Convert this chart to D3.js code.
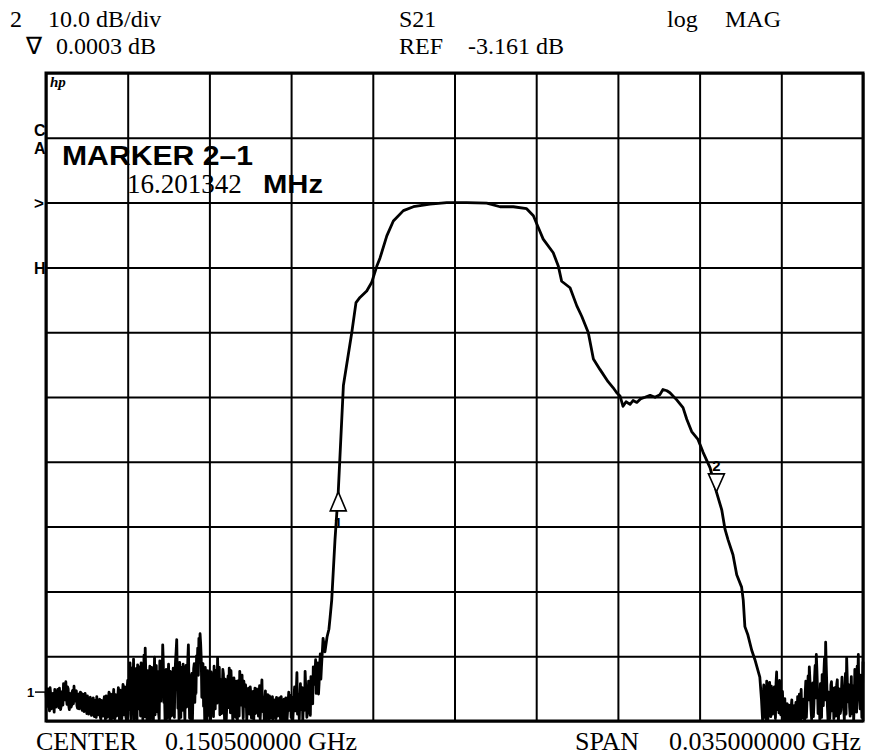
<!DOCTYPE html>
<html>
<head>
<meta charset="utf-8">
<script src="https://cdn.jsdelivr.net/npm/d3@7"></script>
<style>
  body { margin: 0; background: #fff; }
  svg { display: block; }
  .serif { font-family: "Liberation Serif", "Times New Roman", serif; }
  .sans  { font-family: "Liberation Sans", Arial, sans-serif; font-weight: bold; }
</style>
</head>
<body>
<div id="chart"></div>
<script>
// Sweep: centre 150.5 MHz, span 35 MHz, 10 dB/div, ref -3.161 dB
var refDb = -3.161;
var freqGrid = [133, 136.5, 140, 143.5, 147, 150.5, 154, 157.5, 161, 164.5, 168];
var dbGrid = [16.839, 6.839, -3.161, -13.161, -23.161, -33.161, -43.161, -53.161, -63.161, -73.161, -83.161];

// noise floor below the passband (MHz / dB)
var lowNoiseFreq = [
    133.00, 133.05, 133.10, 133.15, 133.20, 133.25, 133.30, 133.35, 133.40, 133.45,
    133.50, 133.55, 133.60, 133.65, 133.70, 133.75, 133.80, 133.85, 133.90, 133.95,
    134.00, 134.05, 134.10, 134.15, 134.20, 134.25, 134.30, 134.35, 134.40, 134.45,
    134.50, 134.55, 134.60, 134.65, 134.70, 134.75, 134.80, 134.85, 134.90, 134.95,
    135.00, 135.05, 135.10, 135.15, 135.20, 135.25, 135.30, 135.35, 135.40, 135.45,
    135.50, 135.55, 135.60, 135.65, 135.70, 135.75, 135.80, 135.85, 135.90, 135.95,
    136.00, 136.05, 136.10, 136.15, 136.20, 136.25, 136.30, 136.35, 136.40, 136.45,
    136.50, 136.55, 136.60, 136.65, 136.70, 136.75, 136.80, 136.85, 136.90, 136.95,
    137.00, 137.05, 137.10, 137.15, 137.20, 137.25, 137.30, 137.35, 137.40, 137.45,
    137.50, 137.55, 137.60, 137.65, 137.70, 137.75, 137.80, 137.85, 137.90, 137.95,
    138.00, 138.05, 138.10, 138.15, 138.20, 138.25, 138.30, 138.35, 138.40, 138.45,
    138.50, 138.55, 138.60, 138.65, 138.70, 138.75, 138.80, 138.85, 138.90, 138.95,
    139.00, 139.05, 139.10, 139.15, 139.20, 139.25, 139.30, 139.35, 139.40, 139.45,
    139.50, 139.55, 139.60, 139.65, 139.70, 139.75, 139.80, 139.85, 139.90, 139.95,
    140.00, 140.05, 140.10, 140.15, 140.20, 140.25, 140.30, 140.35, 140.40, 140.45,
    140.50, 140.55, 140.60, 140.65, 140.70, 140.75, 140.80, 140.85, 140.90, 140.95,
    141.00, 141.05, 141.10, 141.15, 141.20, 141.25, 141.30, 141.35, 141.40, 141.45,
    141.50, 141.55, 141.60, 141.65, 141.70, 141.75, 141.80, 141.85, 141.90, 141.95,
    142.00, 142.05, 142.10, 142.15, 142.20, 142.25, 142.30, 142.35, 142.40, 142.45,
    142.50, 142.55, 142.60, 142.65, 142.70, 142.75, 142.80, 142.85, 142.90, 142.95,
    143.00, 143.05, 143.10, 143.15, 143.20, 143.25, 143.30, 143.35, 143.40, 143.45,
    143.50, 143.55, 143.60, 143.65, 143.70, 143.75, 143.80, 143.85, 143.90, 143.95,
    144.00, 144.05, 144.10, 144.15, 144.20, 144.25, 144.30, 144.35, 144.40, 144.45,
    144.50, 144.55, 144.60, 144.65, 144.70, 144.75, 144.80];
var lowNoiseDb = [
    -78.7, -80.9, -79.4, -81.6, -79.0, -80.5, -78.9, -81.8, -79.6, -80.2,
    -78.3, -81.1, -79.5, -80.8, -78.6, -77.4, -79.9, -77.1, -80.6, -78.2,
    -81.4, -79.3, -80.7, -78.4, -77.8, -80.1, -78.5, -81.2, -79.0, -80.9,
    -78.8, -81.5, -79.2, -80.4, -79.7, -82.0, -80.1, -81.3, -79.5, -82.3,
    -80.4, -81.7, -80.0, -82.6, -80.8, -81.9, -79.8, -82.9, -80.3, -82.4,
    -79.4, -83.0, -80.6, -82.1, -78.7, -83.1, -79.6, -82.5, -78.3, -83.0,
    -80.2, -81.8, -78.0, -83.1, -79.1, -82.7, -77.5, -82.2, -78.6, -83.0,
    -76.9, -81.4, -74.2, -83.0, -76.5, -73.6, -80.8, -75.1, -83.1, -77.0,
    -74.8, -82.4, -76.3, -83.1, -73.0, -71.9, -79.6, -75.4, -82.9, -74.7,
    -78.2, -76.0, -83.1, -73.3, -77.9, -81.7, -75.6, -83.0, -76.8, -74.1,
    -71.4, -80.3, -83.1, -75.2, -78.7, -74.4, -83.1, -76.7, -79.9, -75.0,
    -82.6, -73.8, -70.6, -81.2, -83.1, -76.1, -74.9, -81.5, -77.3, -83.0,
    -74.6, -76.9, -71.4, -82.7, -83.1, -75.8, -78.4, -74.3, -76.6, -73.1,
    -71.9, -70.4, -69.7, -73.5, -77.2, -80.9, -83.1, -76.4, -83.1, -79.0,
    -75.7, -83.1, -80.2, -76.0, -74.7, -81.3, -75.3, -73.4, -79.1, -82.2,
    -76.8, -78.6, -75.9, -83.0, -77.4, -80.1, -76.2, -75.0, -81.9, -77.7,
    -83.1, -76.5, -79.8, -77.0, -83.0, -76.9, -75.5, -80.7, -76.1, -82.8,
    -78.3, -77.6, -83.0, -78.8, -80.6, -77.9, -82.7, -79.2, -83.1, -78.1,
    -80.9, -79.0, -82.4, -77.7, -81.0, -76.8, -79.5, -83.0, -78.5, -81.8,
    -79.1, -83.1, -80.0, -82.3, -79.4, -81.5, -79.9, -82.8, -80.3, -81.2,
    -79.6, -83.0, -80.5, -82.0, -79.8, -83.1, -80.9, -81.6, -78.7, -80.4,
    -82.6, -79.5, -81.1, -77.9, -80.2, -75.7, -79.0, -82.9, -77.4, -80.6,
    -83.1, -78.2, -75.5, -79.3, -82.1, -77.0, -80.4, -76.3, -78.9, -74.8,
    -77.5, -73.7, -76.6, -74.2, -77.3, -72.8, -74.9];

// in-between sweep points of the same noise floor
var lowNoiseFreqB = [
    133.025, 133.075, 133.125, 133.175, 133.225, 133.275, 133.325, 133.375, 133.425, 133.475,
    133.525, 133.575, 133.625, 133.675, 133.725, 133.775, 133.825, 133.875, 133.925, 133.975,
    134.025, 134.075, 134.125, 134.175, 134.225, 134.275, 134.325, 134.375, 134.425, 134.475,
    134.525, 134.575, 134.625, 134.675, 134.725, 134.775, 134.825, 134.875, 134.925, 134.975,
    135.025, 135.075, 135.125, 135.175, 135.225, 135.275, 135.325, 135.375, 135.425, 135.475,
    135.525, 135.575, 135.625, 135.675, 135.725, 135.775, 135.825, 135.875, 135.925, 135.975,
    136.025, 136.075, 136.125, 136.175, 136.225, 136.275, 136.325, 136.375, 136.425, 136.475,
    136.525, 136.575, 136.625, 136.675, 136.725, 136.775, 136.825, 136.875, 136.925, 136.975,
    137.025, 137.075, 137.125, 137.175, 137.225, 137.275, 137.325, 137.375, 137.425, 137.475,
    137.525, 137.575, 137.625, 137.675, 137.725, 137.775, 137.825, 137.875, 137.925, 137.975,
    138.025, 138.075, 138.125, 138.175, 138.225, 138.275, 138.325, 138.375, 138.425, 138.475,
    138.525, 138.575, 138.625, 138.675, 138.725, 138.775, 138.825, 138.875, 138.925, 138.975,
    139.025, 139.075, 139.125, 139.175, 139.225, 139.275, 139.325, 139.375, 139.425, 139.475,
    139.525, 139.575, 139.625, 139.675, 139.725, 139.775, 139.825, 139.875, 139.925, 139.975,
    140.025, 140.075, 140.125, 140.175, 140.225, 140.275, 140.325, 140.375, 140.425, 140.475,
    140.525, 140.575, 140.625, 140.675, 140.725, 140.775, 140.825, 140.875, 140.925, 140.975,
    141.025, 141.075, 141.125, 141.175, 141.225, 141.275, 141.325, 141.375, 141.425, 141.475,
    141.525, 141.575, 141.625, 141.675, 141.725, 141.775, 141.825, 141.875, 141.925, 141.975,
    142.025, 142.075, 142.125, 142.175, 142.225, 142.275, 142.325, 142.375, 142.425, 142.475,
    142.525, 142.575, 142.625, 142.675, 142.725, 142.775, 142.825, 142.875, 142.925, 142.975,
    143.025, 143.075, 143.125, 143.175, 143.225, 143.275, 143.325, 143.375, 143.425, 143.475,
    143.525, 143.575, 143.625, 143.675, 143.725, 143.775, 143.825, 143.875, 143.925, 143.975,
    144.025, 144.075, 144.125, 144.175, 144.225, 144.275, 144.325, 144.375, 144.425, 144.475,
    144.525, 144.575, 144.625, 144.675, 144.725, 144.775];
var lowNoiseDbB = [
    -80.1, -78.2, -80.4, -78.0, -81.3, -79.9, -80.6, -78.3, -81.0, -79.1,
    -80.3, -78.1, -81.4, -79.0, -80.7, -78.8, -78.0, -79.6, -77.9, -80.8,
    -78.9, -81.0, -78.6, -80.5, -79.6, -78.9, -80.8, -79.1, -81.3, -78.7,
    -80.6, -79.0, -81.7, -78.9, -81.4, -79.3, -82.1, -79.8, -81.8, -80.0,
    -79.6, -82.5, -80.9, -79.4, -82.2, -79.9, -82.5, -80.0, -81.9, -80.1,
    -81.9, -79.3, -82.6, -79.7, -81.6, -79.0, -82.8, -79.8, -81.5, -79.1,
    -82.4, -79.5, -81.2, -78.4, -83.0, -78.9, -81.6, -77.9, -82.6, -78.2,
    -78.0, -76.8, -82.1, -75.0, -80.4, -83.0, -77.9, -79.6, -74.5, -81.3,
    -77.6, -74.2, -80.0, -76.9, -82.5, -75.8, -83.1, -78.5, -76.4, -83.0,
    -74.9, -80.7, -77.3, -82.2, -74.6, -78.8, -82.0, -73.9, -80.1, -77.4,
    -74.0, -78.2, -76.6, -82.8, -77.1, -80.5, -75.5, -82.4, -77.8, -80.9,
    -76.2, -72.4, -76.0, -79.3, -74.1, -82.6, -78.0, -74.4, -80.6, -76.7,
    -81.0, -73.7, -77.5, -79.8, -76.3, -82.9, -75.1, -80.3, -78.9, -74.8,
    -76.1, -73.2, -71.2, -79.5, -74.3, -78.1, -74.9, -80.8, -75.4, -82.3,
    -77.0, -75.6, -78.7, -82.5, -77.9, -76.5, -80.4, -76.8, -74.9, -78.3,
    -82.0, -75.2, -80.0, -76.7, -82.9, -77.5, -81.1, -78.6, -75.4, -79.2,
    -80.9, -77.8, -82.6, -79.9, -78.0, -82.4, -77.2, -78.5, -80.3, -77.0,
    -80.9, -79.5, -81.3, -78.1, -82.1, -79.0, -81.4, -78.6, -80.5, -82.0,
    -78.2, -80.7, -79.3, -82.9, -78.6, -81.7, -80.2, -79.9, -83.0, -79.6,
    -81.0, -79.3, -82.7, -80.6, -83.0, -80.1, -81.9, -79.5, -82.4, -80.0,
    -81.8, -79.4, -83.1, -80.3, -82.2, -79.6, -83.0, -80.0, -81.5, -79.2,
    -80.7, -83.0, -79.3, -81.6, -78.3, -82.1, -80.8, -79.9, -81.4, -78.0,
    -80.8, -81.5, -77.7, -82.6, -79.4, -78.5, -82.3, -78.1, -80.5, -77.3,
    -75.9, -78.9, -75.3, -79.0, -74.6, -76.7];

// filter skirts and passband
var passFreq = [144.87, 144.95, 145.04, 145.12, 145.17, 145.24, 145.38, 145.52, 145.74, 146.10,
    146.28, 146.45, 146.74, 146.95, 147.17, 147.31, 147.60, 147.88, 148.31, 148.74,
    149.45, 150.17, 151.02, 151.88, 152.45, 153.02, 153.59, 153.88, 154.09, 154.30,
    154.73, 154.95, 155.09, 155.45, 155.74, 155.95, 156.23, 156.45, 156.73, 157.08,
    157.29, 157.45, 157.59, 157.72, 157.85, 158.02, 158.15, 158.31, 158.49, 158.66,
    158.88, 159.09, 159.30, 159.43, 159.60, 159.73, 160.02, 160.29, 160.45, 160.66,
    160.93, 161.15, 161.45, 161.72, 161.95, 162.09, 162.22, 162.43, 162.59, 162.80,
    162.87, 162.94, 163.07, 163.23, 163.37, 163.58];
var passDb = [-70.4, -72.5, -70.2, -69.0, -67.2, -64.5, -55.2, -47.8, -31.4, -23.2,
    -18.6, -17.8, -16.8, -15.5, -13.0, -11.7, -8.3, -6.0, -4.4, -3.8,
    -3.4, -3.15, -3.15, -3.25, -3.8, -3.8, -4.1, -5.2, -7.0, -8.8,
    -10.9, -13.0, -15.3, -16.3, -19.1, -20.7, -23.2, -27.3, -28.9, -30.8,
    -31.7, -32.5, -33.0, -34.6, -33.9, -34.3, -33.7, -34.0, -33.4, -33.2,
    -32.9, -33.2, -32.8, -32.0, -32.2, -32.5, -33.6, -34.8, -36.6, -38.5,
    -39.7, -41.7, -44.1, -47.8, -50.6, -53.6, -55.2, -57.5, -60.6, -62.5,
    -64.5, -68.6, -69.9, -72.2, -73.7, -76.4];

// noise floor above the passband
var highNoiseFreq = [
    163.65, 163.70, 163.75, 163.80, 163.85, 163.90, 163.95, 164.00, 164.05, 164.10,
    164.15, 164.20, 164.25, 164.30, 164.35, 164.40, 164.45, 164.50, 164.55, 164.60,
    164.65, 164.70, 164.75, 164.80, 164.85, 164.90, 164.95, 165.00, 165.05, 165.10,
    165.15, 165.20, 165.25, 165.30, 165.35, 165.40, 165.45, 165.50, 165.55, 165.60,
    165.65, 165.70, 165.75, 165.80, 165.85, 165.90, 165.95, 166.00, 166.05, 166.10,
    166.15, 166.20, 166.25, 166.30, 166.35, 166.40, 166.45, 166.50, 166.55, 166.60,
    166.65, 166.70, 166.75, 166.80, 166.85, 166.90, 166.95, 167.00, 167.05, 167.10,
    167.15, 167.20, 167.25, 167.30, 167.35, 167.40, 167.45, 167.50, 167.55, 167.60,
    167.65, 167.70, 167.75, 167.80, 167.85, 167.90, 167.95, 168.00];
var highNoiseDb = [
    -79.8, -83.1, -77.6, -81.0, -83.1, -78.4, -80.7, -77.2, -82.5, -79.0,
    -80.9, -77.9, -82.8, -75.6, -78.8, -81.9, -77.5, -80.3, -78.6, -83.0,
    -79.7, -82.4, -80.5, -83.1, -81.2, -83.1, -79.9, -82.6, -80.8, -83.1,
    -81.4, -79.4, -83.0, -80.6, -78.3, -82.7, -79.8, -83.1, -77.0, -80.1,
    -76.2, -74.8, -79.5, -82.9, -77.3, -80.5, -74.6, -72.9, -78.1, -81.7,
    -83.1, -79.2, -76.0, -80.8, -73.5, -71.0, -77.7, -83.0, -79.4, -81.3,
    -77.1, -79.9, -82.8, -78.0, -80.7, -76.8, -83.1, -79.1, -81.5, -76.4,
    -78.9, -83.0, -75.8, -73.4, -80.2, -77.6, -82.4, -76.3, -79.7, -83.1,
    -75.2, -78.4, -74.7, -72.9, -80.0, -76.1, -82.6, -74.0];

var highNoiseFreqB = [
    163.675, 163.725, 163.775, 163.825, 163.875, 163.925, 163.975, 164.025, 164.075, 164.125,
    164.175, 164.225, 164.275, 164.325, 164.375, 164.425, 164.475, 164.525, 164.575, 164.625,
    164.675, 164.725, 164.775, 164.825, 164.875, 164.925, 164.975, 165.025, 165.075, 165.125,
    165.175, 165.225, 165.275, 165.325, 165.375, 165.425, 165.475, 165.525, 165.575, 165.625,
    165.675, 165.725, 165.775, 165.825, 165.875, 165.925, 165.975, 166.025, 166.075, 166.125,
    166.175, 166.225, 166.275, 166.325, 166.375, 166.425, 166.475, 166.525, 166.575, 166.625,
    166.675, 166.725, 166.775, 166.825, 166.875, 166.925, 166.975, 167.025, 167.075, 167.125,
    167.175, 167.225, 167.275, 167.325, 167.375, 167.425, 167.475, 167.525, 167.575, 167.625,
    167.675, 167.725, 167.775, 167.825, 167.875, 167.925, 167.975];
var highNoiseDbB = [
    -81.5, -79.1, -82.6, -80.2, -77.0, -83.0, -79.3, -80.8, -77.8, -82.1,
    -78.5, -80.6, -77.3, -81.4, -79.6, -76.9, -82.2, -79.0, -81.7, -80.1,
    -83.0, -81.8, -82.9, -80.7, -83.1, -81.0, -83.0, -81.9, -82.7, -80.3,
    -82.8, -81.1, -79.0, -83.1, -81.5, -80.0, -82.3, -78.8, -82.6, -78.2,
    -79.9, -76.7, -81.4, -78.0, -82.5, -76.5, -79.6, -75.3, -82.0, -79.5,
    -77.4, -82.6, -78.3, -75.7, -79.9, -74.6, -80.9, -78.7, -82.8, -77.6,
    -81.6, -78.1, -80.2, -82.4, -77.5, -81.8, -78.2, -82.0, -78.6, -80.4,
    -81.2, -77.9, -82.1, -76.5, -78.0, -81.0, -79.3, -82.0, -77.8, -80.5,
    -79.1, -81.8, -77.0, -79.6, -81.3, -77.7, -79.4];

// markers
var markerIds = ["1", "2"];
var markerFreq = [145.52, 161.72];
var markerDb = [-47.8, -47.8];
var channelRefDb = -78.7;

var margin = { top: 73, left: 46 },
    width  = 817,
    height = 648;

var xScale = d3.scaleLinear().domain([133, 168]).range([0, width]);
var yScale = d3.scaleLinear().domain([-83.161, 16.839]).range([height, 0]);

var svg = d3.select("#chart").append("svg")
    .attr("width", 881)
    .attr("height", 756);

svg.append("rect").attr("width", 881).attr("height", 756).attr("fill", "#fff");

var plot = svg.append("g")
    .attr("transform", "translate(" + margin.left + "," + margin.top + ")");

// graticule from axes
var xAxis = d3.axisBottom(xScale).tickValues(freqGrid).tickSize(-height).tickFormat("");
var yAxis = d3.axisLeft(yScale).tickValues(dbGrid).tickSize(-width).tickFormat("");

plot.append("g").attr("class", "grid")
    .attr("transform", "translate(0," + height + ")")
    .call(xAxis);
plot.append("g").attr("class", "grid")
    .call(yAxis);
plot.selectAll(".grid .domain").remove();
plot.selectAll(".grid line").attr("stroke", "#000").attr("stroke-width", 2);

plot.append("rect")
    .attr("width", width).attr("height", height)
    .attr("fill", "none").attr("stroke", "#000").attr("stroke-width", 3);

// trace: merge all segments, ordered by frequency
var trace = [];
[[lowNoiseFreq, lowNoiseDb], [lowNoiseFreqB, lowNoiseDbB], [passFreq, passDb],
 [highNoiseFreq, highNoiseDb], [highNoiseFreqB, highNoiseDbB]].forEach(function(seg) {
    seg[0].forEach(function(f, i) { trace.push([f, seg[1][i]]); });
});
trace.sort(function(a, b) { return a[0] - b[0]; });

var line = d3.line()
    .x(function(d) { return xScale(d[0]); })
    .y(function(d) { return yScale(d[1]); });

plot.append("path")
    .datum(trace)
    .attr("d", line)
    .attr("fill", "none")
    .attr("stroke", "#000")
    .attr("stroke-width", 2.8)
    .attr("stroke-linejoin", "round");

// marker symbols: 1 = open up-triangle under trace, 2 = open down-triangle over trace
markerIds.forEach(function(id, i) {
    var mx = xScale(markerFreq[i]), my = yScale(markerDb[i]);
    var up = (i === 0);
    var g = plot.append("g").attr("transform", "translate(" + mx + "," + my + ")");
    g.append("path")
        .attr("d", up ? "M0,0L-8,19L8,19Z" : "M0,0L-8,-18L8,-18Z")
        .attr("fill", "#fff")
        .attr("stroke", "#000")
        .attr("stroke-width", 1.6);
    g.append("text")
        .attr("class", "sans")
        .attr("x", 0)
        .attr("y", up ? 36 : -21)
        .attr("text-anchor", "middle")
        .attr("font-size", 15)
        .attr("font-weight", "normal")
        .text(id);
});

// hp logo
plot.append("text")
    .attr("class", "serif")
    .attr("x", 4).attr("y", 14)
    .attr("font-size", 15)
    .attr("font-weight", "bold")
    .attr("font-style", "italic")
    .text("hp");

// marker readout
svg.append("text").attr("class", "sans")
    .attr("x", 62).attr("y", 165)
    .attr("font-size", 27)
    .attr("textLength", 191).attr("lengthAdjust", "spacingAndGlyphs")
    .text("MARKER  2\u20131");
svg.append("text").attr("class", "serif")
    .attr("x", 127).attr("y", 193)
    .attr("font-size", 27)
    .text("16.201342");
svg.append("text").attr("class", "sans")
    .attr("x", 263).attr("y", 193)
    .attr("font-size", 25)
    .attr("textLength", 60).attr("lengthAdjust", "spacingAndGlyphs")
    .text("MHz");

// side annotations
var sideLabels = [["C", 136], ["A", 154], ["H", 274]];
sideLabels.forEach(function(d) {
    svg.append("text").attr("class", "sans")
        .attr("x", 34).attr("y", d[1])
        .attr("font-size", 16)
        .text(d[0]);
});
svg.append("text").attr("class", "sans")
    .attr("x", 34).attr("y", margin.top + yScale(refDb))
    .attr("dy", "0.35em")
    .attr("font-size", 17)
    .text(">");
svg.append("text").attr("class", "sans")
    .attr("x", 27).attr("y", margin.top + yScale(channelRefDb))
    .attr("dy", "0.36em")
    .attr("font-size", 13)
    .text("1");
svg.append("line")
    .attr("x1", 35).attr("x2", 45)
    .attr("y1", margin.top + yScale(channelRefDb)).attr("y2", margin.top + yScale(channelRefDb))
    .attr("stroke", "#000").attr("stroke-width", 1.5);

// header and footer text: [text, x, baseline, size]
var labelText = [
    ["2", 10, 27, 24], ["10.0 dB/div", 48, 27, 24], ["S21", 399, 27, 24], ["log", 667, 27, 24], ["MAG", 725, 27, 24],
    ["\u2207", 26, 54, 24], ["0.0003 dB", 56, 54, 24], ["REF", 399, 54, 24], ["-3.161 dB", 468, 54, 24],
    ["CENTER", 36, 750, 26], ["0.150500000 GHz", 165, 750, 26],
    ["SPAN", 575, 750, 26], ["0.035000000 GHz", 669, 750, 26]
];
svg.selectAll(".label")
    .data(labelText)
    .enter()
    .append("text")
    .attr("class", "label serif")
    .attr("x", function(d) { return d[1]; })
    .attr("y", function(d) { return d[2]; })
    .attr("font-size", function(d) { return d[3]; })
    .text(function(d) { return d[0]; });
</script>
</body>
</html>
